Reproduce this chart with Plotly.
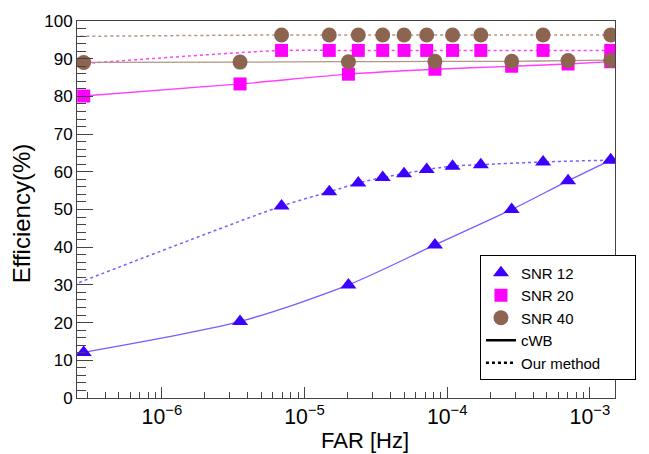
import plotly.graph_objects as go
import math

# ---- data ----
far_cwb = [2.83e-7, 3.53e-6, 2.03e-5, 8.2e-5, 2.83e-4, 7.03e-4, 1.40e-3]
cwb_snr12 = [12.1, 20.3, 30.0, 40.6, 50.0, 57.6, 63.1]
cwb_snr20 = [80.1, 83.3, 85.9, 87.2, 88.0, 88.6, 89.2]
cwb_snr40 = [89.0, 89.1, 89.2, 89.3, 89.3, 89.5, 89.6]

# first point of "our method" lies left of the displayed range
far_our = [2.0e-7, 6.9e-6, 1.49e-5, 2.38e-5, 3.53e-5, 4.98e-5, 7.18e-5,
           1.09e-4, 1.72e-4, 4.70e-4, 1.40e-3]
our_snr12 = [28.9, 50.9, 54.7, 57.0, 58.5, 59.5, 60.6, 61.5, 61.9, 62.6, 63.1]
our_snr20 = [88.3, 92.2, 92.2, 92.2, 92.2, 92.2, 92.2, 92.2, 92.2, 92.2, 92.2]
our_snr40 = [95.9, 96.3, 96.3, 96.3, 96.3, 96.3, 96.3, 96.3, 96.3, 96.3, 96.3]

x_range_hz = [2.54e-7, 1.50e-3]
y_ticks = [0, 10, 20, 30, 40, 50, 60, 70, 80, 90, 100]
legend_names = ["SNR 12", "SNR 20", "SNR 40", "cWB", "Our method"]

BLUE_M = "#3c00ff"
BLUE_L = "#7a5cff"
MAG = "#ff00ff"
MAG_L = "#ff40ff"
BROWN = "#8c6450"
BROWN_L = "#b39585"

FONT = "Liberation Sans, Arial, Helvetica, sans-serif"
DOT = "3px,3px"

fig = go.Figure()

series = [
    (cwb_snr12, our_snr12, BLUE_M, BLUE_L, "triangle-up", 14),
    (cwb_snr20, our_snr20, MAG, MAG_L, "square", 13),
    (cwb_snr40, our_snr40, BROWN, BROWN_L, "circle", 15),
]

for cwb_vals, our_vals, mc, lc, sym, sz in series:
    fig.add_trace(go.Scatter(
        x=far_our, y=our_vals, mode="lines+markers",
        line=dict(color=lc, width=1.5, dash=DOT, shape="spline", smoothing=0.8),
        marker=dict(color=mc, symbol=sym, size=sz, line=dict(width=0)),
        showlegend=False, hoverinfo="skip"))
    fig.add_trace(go.Scatter(
        x=far_cwb, y=cwb_vals, mode="lines+markers",
        line=dict(color=lc, width=1.3, shape="spline", smoothing=0.8),
        marker=dict(color=mc, symbol=sym, size=sz, line=dict(width=0)),
        showlegend=False, hoverinfo="skip"))

# legend-only entries
leg_styles = [
    dict(mode="markers", marker=dict(color=BLUE_M, symbol="triangle-up", size=14)),
    dict(mode="markers", marker=dict(color=MAG, symbol="square", size=13)),
    dict(mode="markers", marker=dict(color=BROWN, symbol="circle", size=15)),
    dict(mode="lines", line=dict(color="black", width=2.5)),
    dict(mode="lines", line=dict(color="black", width=2.5, dash=DOT)),
]
PAD = "\u00a0" * 7
for name, kw in zip(legend_names, leg_styles):
    label = name + PAD if name == "Our method" else name
    fig.add_trace(go.Scatter(x=[None], y=[None], name=label, showlegend=True, **kw))

fig.update_layout(
    width=649, height=454,
    margin=dict(l=77, r=34, t=14, b=56),
    paper_bgcolor="white", plot_bgcolor="white",
    font=dict(family=FONT, color="black", size=17),
    legend=dict(x=0.749, y=0.378, xanchor="left", yanchor="top",
                bgcolor="white", bordercolor="black", borderwidth=1,
                font=dict(size=15, family=FONT), tracegroupgap=0),
    annotations=[
        dict(text="FAR [Hz]", xref="paper", yref="paper", x=0.5356, y=-0.114,
             xanchor="center", yanchor="middle", showarrow=False,
             font=dict(size=22, family=FONT)),
        dict(text="Efficiency(%)", xref="paper", yref="paper", x=-0.104, y=0.490,
             xanchor="center", yanchor="middle", showarrow=False, textangle=-90,
             font=dict(size=24, family=FONT)),
    ],
)

fig.update_xaxes(
    type="log", range=[math.log10(x_range_hz[0]), math.log10(x_range_hz[1])],
    dtick=1, exponentformat="power", showexponent="all",
    ticks="inside", ticklen=11, tickcolor="#444", tickwidth=1,
    minor=dict(ticks="inside", ticklen=6, dtick="D1", tickcolor="#444", showgrid=False),
    showline=True, linecolor="#444", linewidth=1, mirror=True,
    showgrid=False, zeroline=False, tickfont=dict(size=17),
)
fig.update_yaxes(
    range=[0, 100], tickvals=y_ticks,
    ticks="inside", ticklen=16, tickcolor="#444", tickwidth=1,
    minor=dict(ticks="inside", ticklen=9, dtick=2, tickcolor="#444", showgrid=False),
    showline=True, linecolor="#444", linewidth=1, mirror=True,
    showgrid=False, zeroline=False, tickfont=dict(size=17),
)

fig.write_html("out.html")
